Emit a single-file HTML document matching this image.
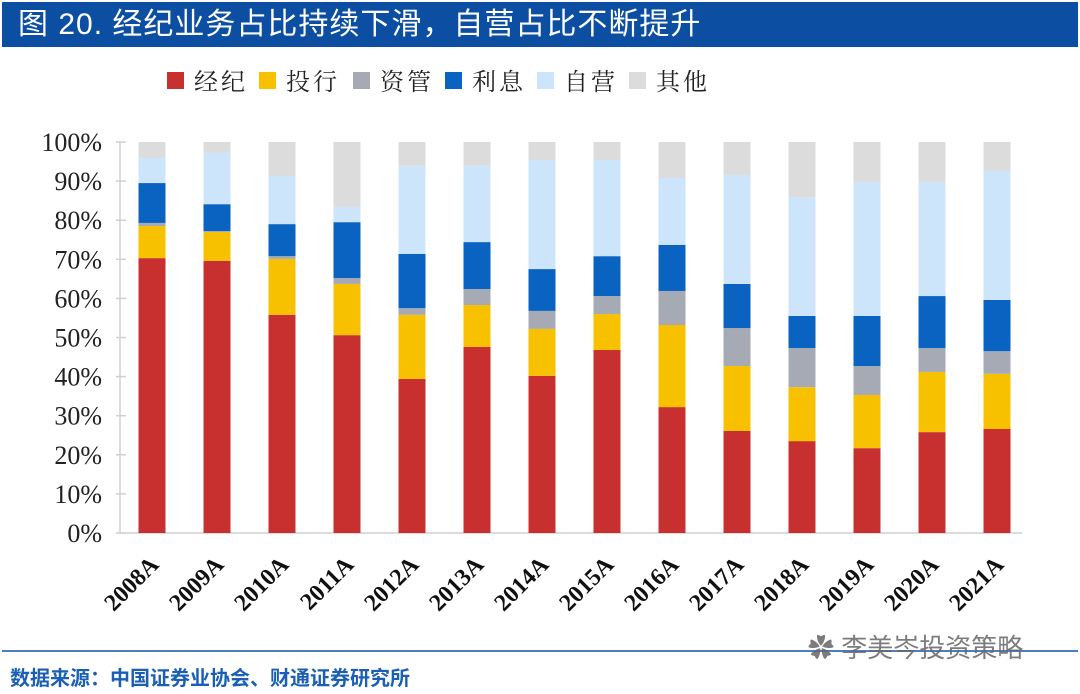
<!DOCTYPE html>
<html><head><meta charset="utf-8"><style>
body{margin:0;width:1080px;height:694px;background:#fff;overflow:hidden;font-family:"Liberation Sans","Noto Sans CJK SC",sans-serif}
#title{position:absolute;left:2px;top:2px;width:1076px;height:45px;background:#0b4ea2;color:#fff;font-size:30px;line-height:45px;text-indent:16px;letter-spacing:1px}
#src{position:absolute;left:10px;top:662px;color:#1a5fb4;font-size:20px;font-weight:bold}
#line{position:absolute;left:2px;top:650px;width:1076px;height:2px;background:#4a7fc8}
#wm{position:absolute;left:808px;top:628px;color:#666;font-size:26px;opacity:.85}
</style></head><body>
<div id="title">图 20. 经纪业务占比持续下滑，自营占比不断提升</div>
<svg id="chart" width="1080" height="694" style="position:absolute;left:0;top:0"></svg>
<div id="line"></div>
<div id="src">数据来源：中国证券业协会、财通证券研究所</div>
<div id="wm">✿ 李美岑投资策略</div>
<script>
const categories=["2008A","2009A","2010A","2011A","2012A","2013A","2014A","2015A","2016A","2017A","2018A","2019A","2020A","2021A"];
const seriesNames=["经纪","投行","资管","利息","自营","其他"];
const broker=[70.3,69.6,55.8,50.6,39.4,47.6,40.2,46.8,32.2,26.1,23.5,21.7,25.8,26.6];
const ibank=[8.2,7.4,14.3,13.1,16.4,10.7,12.0,9.2,21.0,16.6,13.8,13.6,15.4,14.1];
const asset=[0.8,0.2,0.7,1.5,1.7,4.1,4.6,4.6,8.7,9.7,10.0,7.4,6.1,5.8];
const interest=[10.2,6.9,8.2,14.3,13.9,12.0,10.7,10.2,11.8,11.3,8.2,12.8,13.3,13.1];
const prop=[6.4,13.1,12.3,3.9,22.5,19.5,27.9,24.6,17.1,27.9,30.4,34.3,29.2,33.0];
const other=[4.1,2.8,8.7,16.6,6.1,6.1,4.6,4.6,9.2,8.4,14.1,10.2,10.2,7.4];
const yTicks=["0%","10%","20%","30%","40%","50%","60%","70%","80%","90%","100%"];
const colors=["#c8302f","#f7c100","#a6aab5","#0a63c1","#cce5fb","#dcdcdc"];
const series=[broker,ibank,asset,interest,prop,other];
const svg=document.getElementById('chart');const NS="http://www.w3.org/2000/svg";
function mk(t,a,p){const e=document.createElementNS(NS,t);for(const k in a)e.setAttribute(k,a[k]);(p||svg).appendChild(e);return e;}
const y0=533,y1=142,xL=120,step=65,x0=152,bw=27;
const y=v=>y0-(y0-y1)*v/100;
const x=i=>x0+i*step;
const ax=mk('line',{x1:xL,y1:y1,x2:xL,y2:y0,stroke:'#d0d0d0','stroke-width':1.5});

const bx=mk('line',{x1:xL,y1:y0,x2:1022,y2:y0,stroke:'#d0d0d0','stroke-width':1.5});

yTicks.forEach((t,i)=>{const v=i*10;
 const tk=mk('line',{x1:xL-4,y1:y(v),x2:xL+6,y2:y(v),stroke:'#d0d0d0','stroke-width':1.5});
 
 const tx=mk('text',{x:102,y:y(v)+9,'text-anchor':'end','font-family':'Liberation Serif,serif','font-size':26,fill:'#222'});
 tx.textContent=t;});
categories.forEach((c,i)=>{let acc=0;
 series.forEach((s,j)=>{const v=s[i];
  const r=mk('rect',{x:x(i)-bw/2,y:y(acc+v),width:bw,height:y(acc)-y(acc+v),fill:colors[j]});
  acc+=v;});
 const tx=mk('text',{x:0,y:0,'text-anchor':'end','font-family':'Liberation Serif,serif','font-weight':'bold','font-size':24,fill:'#111',transform:`translate(${x(i)+8},${566}) rotate(-45)`});
 tx.textContent=c;});
const lx=[167,259,353,445,537,629];
seriesNames.forEach((n,j)=>{const g=mk('g',{});
 
 mk('rect',{x:lx[j],y:72,width:17,height:17,fill:colors[j]},g);
 const t=mk('text',{x:lx[j]+27,y:90,'font-family':'Noto Serif CJK SC,serif','font-size':24,fill:'#222','letter-spacing':3},g);t.textContent=n;});
</script>
</body></html>
